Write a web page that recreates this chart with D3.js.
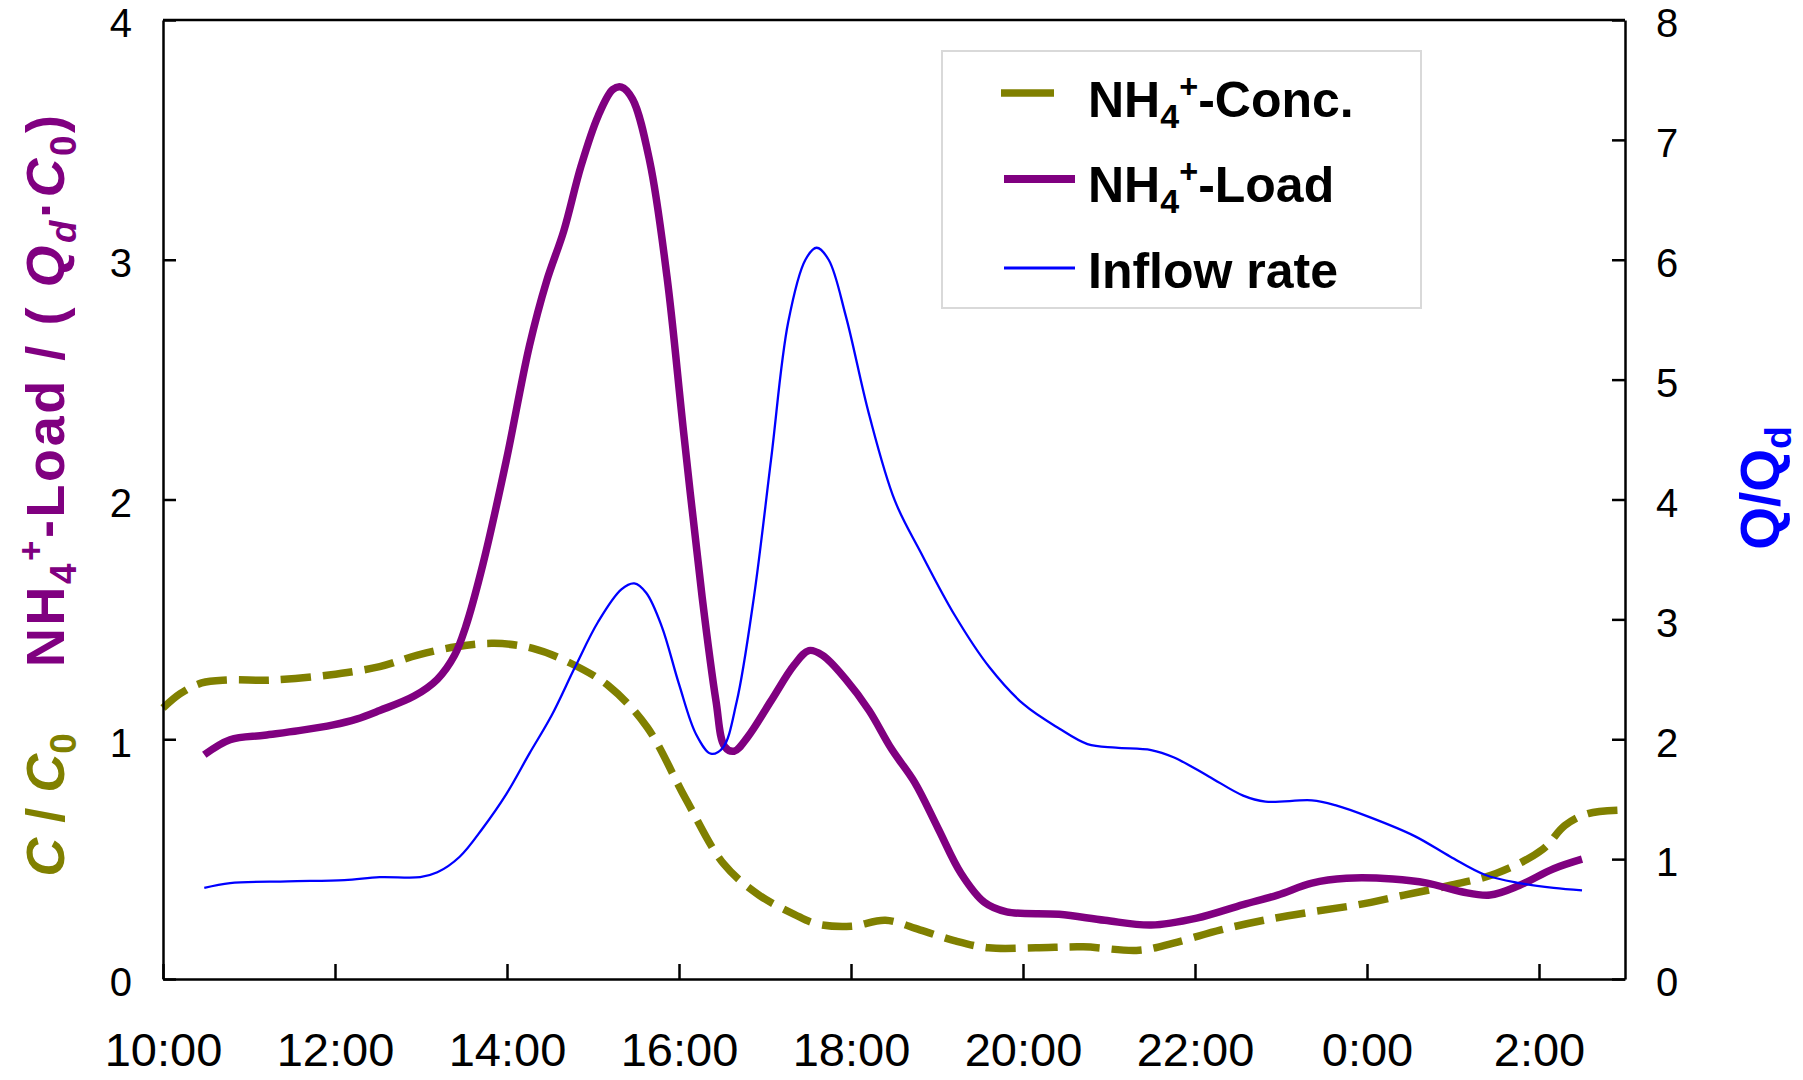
<!DOCTYPE html>
<html>
<head>
<meta charset="utf-8">
<script src="https://cdn.jsdelivr.net/npm/d3@7"></script>
<style>
  html, body { margin: 0; padding: 0; background: #fff; }
  svg { display: block; font-family: "Liberation Sans", Arial, sans-serif; }
</style>
</head>
<body>
<svg id="chart" width="1803" height="1080"></svg>
<script>
// ---------- DATA (time = hours after 10:00) ----------
const xTickValues = [0, 2, 4, 6, 8, 10, 12, 14, 16];
const xTickLabels = ["10:00", "12:00", "14:00", "16:00", "18:00", "20:00", "22:00", "0:00", "2:00"];
const leftTicks = [0, 1, 2, 3, 4];
const rightTicks = [0, 1, 2, 3, 4, 5, 6, 7, 8];

const concTime  = [0.0, 0.2, 0.45, 0.75, 1.27, 1.93, 2.52, 2.96, 3.41, 3.85, 4.30, 4.74, 5.19, 5.63, 6.08, 6.52, 6.93, 7.34, 7.6, 8.0, 8.4, 8.8, 9.2, 9.6, 10.15, 10.7, 11.35, 11.75, 12.3, 12.8, 13.36, 13.9, 14.43, 14.96, 15.5, 16.04, 16.3, 16.57, 17.0];
const concValue = [1.13, 1.19, 1.235, 1.247, 1.247, 1.268, 1.303, 1.351, 1.386, 1.40, 1.379, 1.317, 1.22, 1.05, 0.75, 0.48, 0.35, 0.27, 0.23, 0.22, 0.245, 0.205, 0.16, 0.13, 0.13, 0.134, 0.12, 0.15, 0.205, 0.245, 0.28, 0.31, 0.35, 0.39, 0.44, 0.54, 0.64, 0.69, 0.705];

const loadTime  = [0.48, 0.78, 1.18, 1.58, 1.98, 2.25, 2.52, 2.92, 3.19, 3.39, 3.52, 3.72, 3.99, 4.26, 4.46, 4.66, 4.86, 5.06, 5.23, 5.33, 5.46, 5.66, 5.86, 6.06, 6.27, 6.43, 6.53, 6.64, 6.8, 7.07, 7.34, 7.51, 7.67, 7.94, 8.21, 8.47, 8.74, 9.01, 9.28, 9.55, 9.81, 10.42, 10.95, 11.49, 12.02, 12.56, 12.96, 13.36, 13.76, 14.3, 14.7, 15.1, 15.43, 15.77, 16.17, 16.5];
const loadValue = [0.935, 0.998, 1.017, 1.036, 1.06, 1.084, 1.12, 1.18, 1.25, 1.35, 1.47, 1.73, 2.16, 2.64, 2.91, 3.12, 3.39, 3.60, 3.71, 3.72, 3.67, 3.41, 2.93, 2.26, 1.59, 1.16, 0.97, 0.95, 1.01, 1.16, 1.31, 1.37, 1.35, 1.25, 1.12, 0.96, 0.82, 0.63, 0.44, 0.32, 0.28, 0.27, 0.245, 0.225, 0.254, 0.31, 0.35, 0.40, 0.42, 0.417, 0.40, 0.364, 0.35, 0.39, 0.46, 0.50];

const flowTime  = [0.48, 0.78, 1.45, 2.11, 2.52, 2.99, 3.19, 3.45, 3.72, 3.99, 4.26, 4.52, 4.79, 5.06, 5.33, 5.48, 5.62, 5.80, 6.0, 6.2, 6.37, 6.51, 6.67, 6.87, 7.07, 7.27, 7.47, 7.6, 7.74, 7.94, 8.21, 8.51, 8.81, 9.21, 9.61, 10.01, 10.42, 10.75, 11.08, 11.49, 11.75, 12.16, 12.56, 12.82, 13.36, 13.63, 14.03, 14.56, 14.97, 15.37, 15.77, 16.17, 16.5];
const flowValue = [0.76, 0.80, 0.815, 0.825, 0.85, 0.85, 0.89, 1.02, 1.26, 1.54, 1.88, 2.20, 2.60, 2.98, 3.25, 3.30, 3.22, 2.94, 2.46, 2.04, 1.88, 1.93, 2.31, 3.18, 4.33, 5.48, 6.0, 6.10, 6.0, 5.53, 4.71, 3.99, 3.56, 3.03, 2.60, 2.29, 2.09, 1.96, 1.93, 1.91, 1.85, 1.69, 1.53, 1.48, 1.49, 1.45, 1.35, 1.19, 1.02, 0.87, 0.80, 0.76, 0.74];

// ---------- LAYOUT ----------
const svg = d3.select("#chart");
const L = 163, R = 1625, T = 20, B = 979;
const OLIVE = "#808000", PURPLE = "#800080", BLUE = "#0000FF";

const x = d3.scaleLinear().domain([0, 17]).range([L, R]);
const yL = d3.scaleLinear().domain([0, 4]).range([B, T]);
const yR = d3.scaleLinear().domain([0, 8]).range([B, T]);

const zip = (t, v) => t.map((d, i) => [d, v[i]]);

// ---------- LINES ----------
const lineL = d3.line().x(d => x(d[0])).y(d => yL(d[1])).curve(d3.curveCatmullRom.alpha(0.5));
const lineR = d3.line().x(d => x(d[0])).y(d => yR(d[1])).curve(d3.curveCatmullRom.alpha(0.5));

svg.append("path").datum(zip(concTime, concValue))
  .attr("d", lineL).attr("fill", "none").attr("stroke", OLIVE)
  .attr("stroke-width", 7.5).attr("stroke-dasharray", "30,12");

svg.append("path").datum(zip(loadTime, loadValue))
  .attr("d", lineL).attr("fill", "none").attr("stroke", PURPLE)
  .attr("stroke-width", 7.5).attr("stroke-linejoin", "round");

svg.append("path").datum(zip(flowTime, flowValue))
  .attr("d", lineR).attr("fill", "none").attr("stroke", BLUE)
  .attr("stroke-width", 2.3);

// ---------- AXES ----------
const axisStyle = g => {
  g.selectAll(".domain").attr("stroke", "#000").attr("stroke-width", 2.5);
  g.selectAll(".tick line").attr("stroke", "#000").attr("stroke-width", 2.5);
  g.selectAll(".tick text").attr("fill", "#000");
};

svg.append("g").attr("transform", `translate(${L},0)`)
  .call(d3.axisLeft(yL).tickValues(leftTicks).tickFormat(d3.format("d")).tickSize(-13).tickSizeOuter(0).tickPadding(31))
  .call(axisStyle)
  .call(g => g.selectAll(".tick text").attr("font-size", 40).attr("font-family", "Liberation Sans, Arial").attr("dy", "0.42em"));

svg.append("g").attr("transform", `translate(${R},0)`)
  .call(d3.axisRight(yR).tickValues(rightTicks).tickFormat(d3.format("d")).tickSize(-13).tickSizeOuter(0).tickPadding(31))
  .call(axisStyle)
  .call(g => g.selectAll(".tick text").attr("font-size", 40).attr("font-family", "Liberation Sans, Arial").attr("dy", "0.42em"));

svg.append("g").attr("transform", `translate(0,${B})`)
  .call(d3.axisBottom(x).tickValues(xTickValues).tickFormat((d, i) => xTickLabels[i]).tickSize(-15).tickSizeOuter(0).tickPadding(54))
  .call(axisStyle)
  .call(g => g.selectAll(".tick text").attr("font-size", 47).attr("font-family", "Liberation Sans, Arial"));

// top border
svg.append("line").attr("x1", L).attr("x2", R).attr("y1", T).attr("y2", T)
  .attr("stroke", "#000").attr("stroke-width", 2.5);

// ---------- AXIS TITLES ----------
function richText(sel, parts, baseSize) {
  parts.forEach(p => {
    const ts = sel.append("tspan").text(p.t);
    let size = baseSize, shift = 0;
    if (p.sub) { size = baseSize * 0.68; shift = baseSize * 0.22; }
    if (p.sup) { size = baseSize * 0.65; shift = -baseSize * 0.38; }
    ts.attr("font-size", size);
    if (p.it) ts.attr("font-style", "italic");
    if (shift) ts.attr("baseline-shift", -shift);
  });
}

const purpleTitle = svg.append("text")
  .attr("transform", "translate(64,391) rotate(-90)")
  .attr("text-anchor", "middle").attr("font-weight", "bold").attr("fill", PURPLE)
  .attr("textLength", 552).attr("lengthAdjust", "spacing");
richText(purpleTitle, [
  {t: "NH"}, {t: "4", sub: true}, {t: "+", sup: true}, {t: "-Load / ( "},
  {t: "Q", it: true}, {t: "d", sub: true, it: true}, {t: "·"}, {t: "C", it: true}, {t: "0", sub: true}, {t: ")"}
], 54);

const oliveTitle = svg.append("text")
  .attr("transform", "translate(64,805) rotate(-90)")
  .attr("text-anchor", "middle").attr("font-weight", "bold").attr("fill", OLIVE);
richText(oliveTitle, [
  {t: "C", it: true}, {t: " / "}, {t: "C", it: true}, {t: "0", sub: true}
], 54);

const blueTitle = svg.append("text")
  .attr("transform", "translate(1779,488) rotate(-90)")
  .attr("text-anchor", "middle").attr("font-weight", "bold").attr("fill", BLUE);
richText(blueTitle, [{t: "Q/Q"}, {t: "d", sub: true}], 55);

// ---------- LEGEND ----------
const legend = svg.append("g");
legend.append("rect").attr("x", 942).attr("y", 51).attr("width", 479).attr("height", 257)
  .attr("fill", "#fff").attr("stroke", "#d9d9d9").attr("stroke-width", 2);

const legendItems = [
  {parts: [{t: "NH"}, {t: "4", sub: true}, {t: "+", sup: true}, {t: "-Conc."}], color: OLIVE, w: 7.5, x1: 1001, x2: 1054, ly: 93, ty: 117},
  {parts: [{t: "NH"}, {t: "4", sub: true}, {t: "+", sup: true}, {t: "-Load"}], color: PURPLE, w: 8, x1: 1004, x2: 1075, ly: 179, ty: 202},
  {parts: [{t: "Inflow rate"}], color: BLUE, w: 3, x1: 1004, x2: 1075, ly: 268, ty: 288}
];
legendItems.forEach(it => {
  legend.append("line").attr("x1", it.x1).attr("x2", it.x2).attr("y1", it.ly).attr("y2", it.ly)
    .attr("stroke", it.color).attr("stroke-width", it.w);
  const t = legend.append("text").attr("x", 1088).attr("y", it.ty)
    .attr("font-weight", "bold").attr("fill", "#000");
  richText(t, it.parts, 50);
});
</script>
</body>
</html>
